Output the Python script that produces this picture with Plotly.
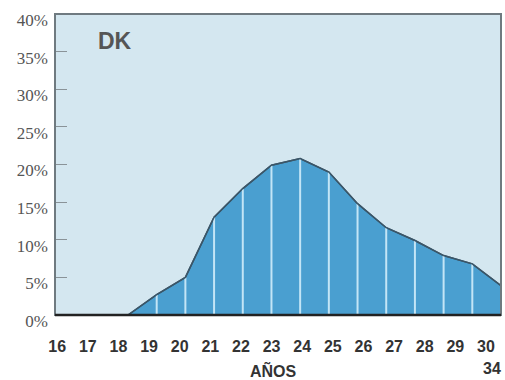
import plotly.graph_objects as go

# ---- data ----
AGE_LABELS = ["16", "17", "18", "19", "20", "21", "22", "23", "24", "25", "26", "27", "28", "29", "30"]
AGE_TICKS = [16, 17, 18, 19, 20, 21, 22, 23, 24, 25, 26, 27, 28, 29, 30]
# curve vertices (age groups from 18 up to the 30-34 group end)
PT_AGES = [18, 19, 20, 21, 22, 23, 24, 25, 26, 27, 28, 29, 30, 31]
PT_VALUES = [0, 2.7, 5.0, 13.0, 16.8, 19.9, 20.8, 19.0, 14.8, 11.6, 9.9, 7.9, 6.8, 3.9]
Y_TICKS = [0, 5, 10, 15, 20, 25, 30, 35, 40]
Y_LABELS = ["0%", "5%", "10%", "15%", "20%", "25%", "30%", "35%", "40%"]

BG = "#d4e7f0"
AREA = "#4a9fd0"
WHITE_LINE = "#c3e5f6"
OUTLINE = "#3b5668"

fig = go.Figure()

# empty trace so the labelled age axis is part of a subplot
fig.add_trace(go.Scatter(
    x=AGE_TICKS, y=[None] * len(AGE_TICKS), xaxis="x", yaxis="y",
    mode="lines", hoverinfo="skip", showlegend=False,
))

fig.add_trace(go.Scatter(
    x=PT_AGES, y=PT_VALUES, xaxis="x2", yaxis="y",
    mode="lines", fill="tozeroy", fillcolor=AREA,
    line=dict(color=OUTLINE, width=1.5), hoverinfo="skip", showlegend=False,
))

# white separators at each interior vertex
vx, vy = [], []
for a, v in zip(PT_AGES[1:-1], PT_VALUES[1:-1]):
    vx += [a, a, None]
    vy += [0, v, None]
fig.add_trace(go.Scatter(
    x=vx, y=vy, xaxis="x2", yaxis="y", mode="lines",
    line=dict(color=WHITE_LINE, width=2), hoverinfo="skip", showlegend=False,
))
# re-draw outline on top
fig.add_trace(go.Scatter(
    x=PT_AGES, y=PT_VALUES, xaxis="x2", yaxis="y", mode="lines",
    line=dict(color=OUTLINE, width=1.5), hoverinfo="skip", showlegend=False,
))

fig.update_layout(
    width=505, height=380,
    margin=dict(l=55, r=4, t=14, b=65, autoexpand=False),
    paper_bgcolor="white", plot_bgcolor=BG,
    xaxis=dict(
        range=[15.93, 30.49], tickvals=AGE_TICKS, ticktext=AGE_LABELS,
        showgrid=False, zeroline=False, ticks="outside", ticklen=17,
        tickcolor="rgba(0,0,0,0)", showline=False, automargin=False,
        tickfont=dict(family="Liberation Sans", size=16, color="#333333", weight="bold"),
    ),
    xaxis2=dict(
        range=[15.456, 31], overlaying="x", visible=False,
    ),
    yaxis=dict(
        range=[0, 40], tickvals=Y_TICKS, ticktext=Y_LABELS,
        showgrid=False, zeroline=False, automargin=False,
        ticks="inside", ticklen=12, tickcolor="#8a9398", tickwidth=1,
        tickfont=dict(family="Liberation Serif", size=17, color="#555555"),
        ticklabelshift=6, ticklabelstandoff=6,
    ),
    shapes=[
        dict(type="rect", xref="paper", yref="paper", x0=0, x1=1, y0=0, y1=1,
             line=dict(color="#6f7a80", width=2), layer="above"),
        dict(type="line", xref="paper", yref="paper", x0=0, x1=1, y0=0, y1=0,
             line=dict(color="#222222", width=2.5), layer="above"),
    ],
    annotations=[
        dict(text="DK", xref="paper", yref="paper", x=0.1345, y=0.910,
             showarrow=False, xanchor="center", yanchor="middle",
             font=dict(family="Liberation Sans", size=23, color="#555555", weight="bold")),
        dict(text="AÑOS", xref="paper", yref="paper", x=0.489, y=-0.183,
             showarrow=False, xanchor="center", yanchor="middle",
             font=dict(family="Liberation Sans", size=16, color="#333333", weight="bold")),
        dict(text="34", xref="paper", yref="paper", x=(492 - 55) / 446, y=(315 - 368) / 301,
             showarrow=False, xanchor="center", yanchor="middle",
             font=dict(family="Liberation Sans", size=16, color="#333333", weight="bold")),
    ],
)

fig.write_html("out.html", config={"displayModeBar": False},
               post_script="document.body.style.margin='0';")
